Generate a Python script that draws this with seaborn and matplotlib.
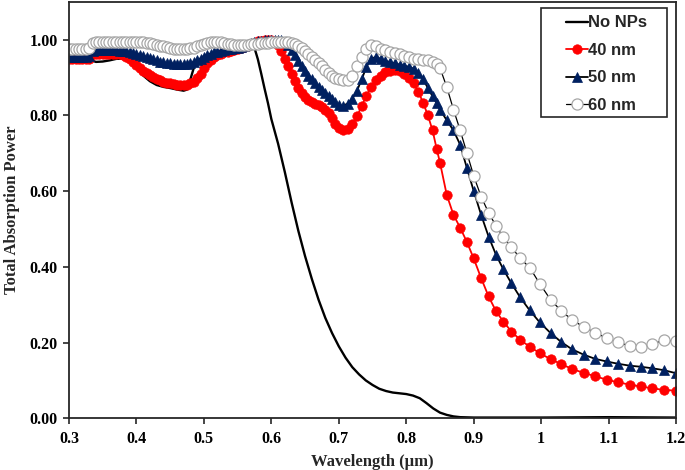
import matplotlib
matplotlib.use("Agg")
import matplotlib.pyplot as plt
from matplotlib.patches import Rectangle
import seaborn as sns

# ---------------- data ----------------
# bare film (no nanoparticles), drawn as a plain line
wl_bare = [0.30, 0.32, 0.335, 0.34, 0.35, 0.36, 0.37, 0.38, 0.39, 0.40,
           0.41, 0.42, 0.43, 0.44, 0.45, 0.46, 0.47, 0.475, 0.48, 0.485,
           0.49, 0.50, 0.52, 0.54, 0.56, 0.57, 0.575, 0.58, 0.585, 0.59,
           0.595, 0.60, 0.61, 0.62, 0.63, 0.64, 0.65, 0.66, 0.67, 0.68,
           0.69, 0.70, 0.71, 0.72, 0.73, 0.74, 0.75, 0.76, 0.77, 0.78,
           0.79, 0.80, 0.81, 0.82, 0.83, 0.84, 0.85, 0.86, 0.87, 0.88,
           0.90, 1.00, 1.10, 1.20]
abs_bare = [0.950, 0.950, 0.944, 0.941, 0.942, 0.945, 0.949, 0.950, 0.942, 0.925,
            0.905, 0.890, 0.880, 0.875, 0.872, 0.868, 0.865, 0.868, 0.895, 0.925,
            0.942, 0.956, 0.968, 0.975, 0.983, 0.986, 0.978, 0.948, 0.910, 0.870,
            0.832, 0.790, 0.725, 0.650, 0.570, 0.495, 0.428, 0.368, 0.313, 0.265,
            0.225, 0.190, 0.160, 0.135, 0.116, 0.100, 0.088, 0.078, 0.072, 0.068,
            0.066, 0.064, 0.060, 0.053, 0.040, 0.026, 0.015, 0.009, 0.005, 0.003,
            0.002, 0.002, 0.003, 0.002]

# sampling of the NP curves (denser at short wavelength)
wavelength = [0.300, 0.305, 0.310, 0.315, 0.320, 0.325, 0.330, 0.335, 0.340, 0.345,
              0.350, 0.355, 0.360, 0.365, 0.370, 0.375, 0.380, 0.385, 0.390, 0.395,
              0.400, 0.405, 0.410, 0.415, 0.420, 0.425, 0.430, 0.435, 0.440, 0.445,
              0.450, 0.455, 0.460, 0.465, 0.470, 0.475, 0.480, 0.485, 0.490, 0.495,
              0.500, 0.505, 0.510, 0.515, 0.520, 0.525, 0.530, 0.535, 0.540, 0.545,
              0.550, 0.555, 0.560, 0.565, 0.570, 0.575, 0.580, 0.585, 0.590, 0.595,
              0.600, 0.605, 0.610, 0.615, 0.620, 0.625, 0.630, 0.635, 0.640, 0.645,
              0.650, 0.655, 0.660, 0.665, 0.670, 0.675, 0.680, 0.685, 0.690, 0.695,
              0.700, 0.706, 0.713, 0.720, 0.727, 0.734, 0.741, 0.748, 0.755, 0.762,
              0.769, 0.776, 0.783, 0.790, 0.797, 0.804, 0.811, 0.818, 0.825, 0.832,
              0.839, 0.845, 0.850, 0.860, 0.870, 0.880, 0.890, 0.900, 0.911, 0.922,
              0.933, 0.944, 0.956, 0.969, 0.983, 0.998, 1.014, 1.030, 1.046, 1.063,
              1.080, 1.097, 1.114, 1.131, 1.148, 1.165, 1.182, 1.200]

abs_40 = [0.948, 0.948, 0.948, 0.948, 0.948, 0.948, 0.950, 0.961, 0.963, 0.963,
          0.963, 0.963, 0.963, 0.963, 0.963, 0.962, 0.960, 0.955, 0.948, 0.940,
          0.933, 0.926, 0.918, 0.912, 0.906, 0.900, 0.896, 0.892, 0.889, 0.886,
          0.884, 0.882, 0.881, 0.880, 0.880, 0.881, 0.884, 0.889, 0.898, 0.910,
          0.924, 0.937, 0.947, 0.954, 0.959, 0.963, 0.966, 0.968, 0.970, 0.972,
          0.974, 0.977, 0.980, 0.984, 0.988, 0.992, 0.995, 0.997, 0.999, 1.000,
          1.000, 0.996, 0.986, 0.970, 0.950, 0.929, 0.909, 0.890, 0.873, 0.859,
          0.848, 0.840, 0.835, 0.831, 0.827, 0.822, 0.815, 0.805, 0.792, 0.777,
          0.766, 0.760, 0.763, 0.776, 0.797, 0.825, 0.852, 0.875, 0.893, 0.905,
          0.914, 0.918, 0.919, 0.916, 0.910, 0.899, 0.884, 0.862, 0.833, 0.800,
          0.760, 0.712, 0.675, 0.590, 0.537, 0.503, 0.465, 0.422, 0.370, 0.322,
          0.283, 0.255, 0.229, 0.207, 0.189, 0.172, 0.156, 0.143, 0.130, 0.120,
          0.111, 0.102, 0.095, 0.089, 0.084, 0.079, 0.075, 0.073]

abs_50 = [0.955, 0.955, 0.955, 0.955, 0.955, 0.955, 0.957, 0.969, 0.972, 0.972,
          0.972, 0.972, 0.972, 0.972, 0.972, 0.971, 0.970, 0.969, 0.967, 0.965,
          0.963, 0.960, 0.957, 0.954, 0.951, 0.948, 0.945, 0.942, 0.940, 0.938,
          0.937, 0.936, 0.935, 0.935, 0.935, 0.936, 0.938, 0.941, 0.945, 0.950,
          0.955, 0.959, 0.963, 0.966, 0.968, 0.970, 0.972, 0.974, 0.975, 0.977,
          0.979, 0.981, 0.984, 0.987, 0.990, 0.993, 0.995, 0.997, 0.998, 0.999,
          1.000, 1.000, 1.000, 0.998, 0.994, 0.985, 0.972, 0.958, 0.944, 0.930,
          0.917, 0.905, 0.895, 0.885, 0.876, 0.868, 0.860, 0.852, 0.843, 0.834,
          0.826, 0.825, 0.831, 0.844, 0.865, 0.895, 0.928, 0.950, 0.954, 0.949,
          0.944, 0.940, 0.937, 0.934, 0.931, 0.928, 0.923, 0.913, 0.895, 0.872,
          0.850, 0.832, 0.815, 0.787, 0.760, 0.722, 0.660, 0.600, 0.537, 0.480,
          0.432, 0.393, 0.356, 0.319, 0.285, 0.253, 0.225, 0.201, 0.182, 0.168,
          0.157, 0.150, 0.144, 0.139, 0.136, 0.132, 0.127, 0.119]

abs_60 = [0.976, 0.975, 0.975, 0.975, 0.975, 0.975, 0.977, 0.990, 0.994, 0.994,
          0.994, 0.994, 0.994, 0.994, 0.994, 0.994, 0.994, 0.994, 0.994, 0.994,
          0.993, 0.993, 0.993, 0.992, 0.990, 0.988, 0.986, 0.984, 0.982, 0.980,
          0.978, 0.976, 0.975, 0.974, 0.974, 0.975, 0.977, 0.979, 0.982, 0.985,
          0.988, 0.991, 0.993, 0.994, 0.994, 0.993, 0.991, 0.989, 0.987, 0.986,
          0.985, 0.985, 0.985, 0.986, 0.987, 0.988, 0.989, 0.990, 0.991, 0.992,
          0.993, 0.993, 0.994, 0.994, 0.994, 0.993, 0.990, 0.987, 0.983, 0.977,
          0.970, 0.962, 0.954, 0.946, 0.938, 0.929, 0.920, 0.912, 0.905, 0.899,
          0.895, 0.892, 0.893, 0.905, 0.930, 0.955, 0.975, 0.985, 0.982, 0.976,
          0.972, 0.968, 0.964, 0.961, 0.957, 0.953, 0.950, 0.948, 0.946, 0.945,
          0.942, 0.935, 0.925, 0.875, 0.815, 0.760, 0.700, 0.640, 0.585, 0.543,
          0.508, 0.478, 0.452, 0.422, 0.398, 0.355, 0.313, 0.283, 0.260, 0.241,
          0.226, 0.212, 0.201, 0.191, 0.188, 0.197, 0.206, 0.203]

x_ticks = [0.3, 0.4, 0.5, 0.6, 0.7, 0.8, 0.9, 1.0, 1.1, 1.2]
x_tick_labels = ["0.3", "0.4", "0.5", "0.6", "0.7", "0.8", "0.9", "1", "1.1", "1.2"]
y_ticks = [0.0, 0.2, 0.4, 0.6, 0.8, 1.0]
y_tick_labels = ["0.00", "0.20", "0.40", "0.60", "0.80", "1.00"]

# ---------------- plot ----------------
sns.set_style("ticks")
plt.rcParams['font.family'] = ['Liberation Serif', 'DejaVu Serif']
plt.rcParams['font.weight'] = 'bold'

fig = plt.figure(figsize=(6.85, 4.70), dpi=100)
ax = fig.add_axes([0.1007, 0.110, 0.8863, 0.8864])

sns.lineplot(x=wl_bare, y=abs_bare, ax=ax, color='black', lw=1.7,
             label='No NPs', sort=False)
sns.lineplot(x=wavelength, y=abs_40, ax=ax, color='#ff0000', lw=1.3,
             marker='o', markersize=6.8, markerfacecolor='#ff0000',
             markeredgecolor='#ff0000', markeredgewidth=0.5,
             label='40 nm', sort=False)
sns.lineplot(x=wavelength, y=abs_50, ax=ax, color='black', lw=1.3,
             marker='^', markersize=7, markerfacecolor='#002060',
             markeredgecolor='#002060', markeredgewidth=0.5,
             label='50 nm', sort=False)
sns.lineplot(x=wavelength, y=abs_60, ax=ax, color='black', lw=0.9,
             marker='o', markersize=8, markerfacecolor='white',
             markeredgecolor='#a6a6a6', markeredgewidth=0.9,
             label='60 nm', sort=False)

ax.set_xlim(0.3, 1.2)
ax.set_ylim(0, 1.1)
ax.set_xticks(x_ticks)
ax.set_xticklabels(x_tick_labels)
ax.set_yticks(y_ticks)
ax.set_yticklabels(y_tick_labels)
ax.tick_params(axis='both', direction='out', length=4, width=1.2,
               labelsize=11.5, color='#262626', labelcolor='black')
ax.tick_params(axis='x', pad=5)
ax.tick_params(axis='y', pad=4)
for sp in ax.spines.values():
    sp.set_visible(True)
    sp.set_linewidth(1.3)
    sp.set_color('#262626')

ax.set_xlabel('Wavelength (µm)', fontsize=12, fontweight='bold', labelpad=5)
ax.set_ylabel('Total Absorption Power', fontsize=12, fontweight='bold', labelpad=7)

# legend: box drawn separately so the entries sit centered in a wide frame
frame = Rectangle((0.777, 0.724), 0.208, 0.2616, transform=ax.transAxes,
                  facecolor='white', edgecolor='#262626', lw=1.2, zorder=6)
ax.add_patch(frame)
leg = ax.legend(loc='upper left', bbox_to_anchor=(0.8188, 0.967),
                frameon=False, borderaxespad=0, borderpad=0,
                handlelength=1.3, handletextpad=0.0, labelspacing=0.75,
                prop=dict(family='Liberation Sans', weight='bold', size=12))
leg.set_zorder(7)

fig.savefig('out.png', dpi=100)
